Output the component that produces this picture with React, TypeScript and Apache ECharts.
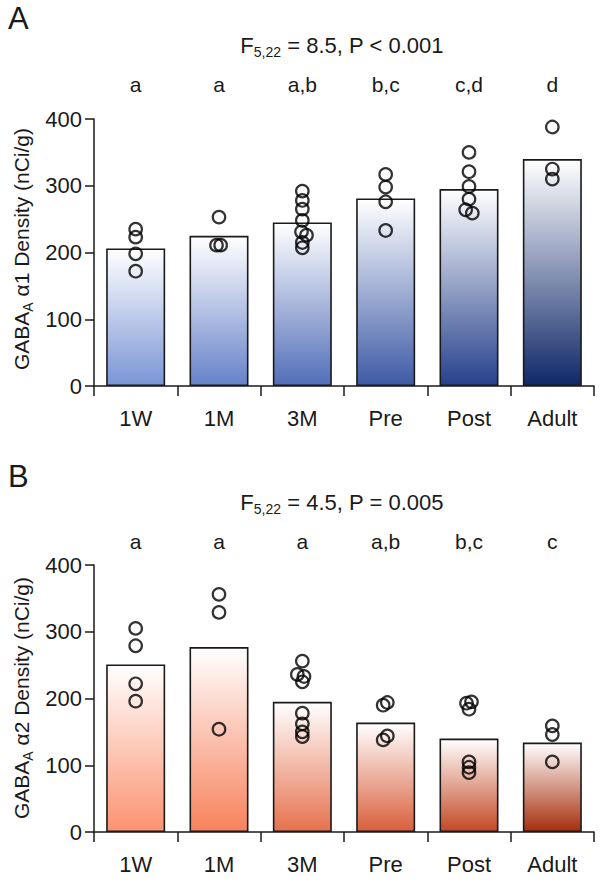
import React, { useEffect, useRef } from "react";
import * as echarts from "echarts";

const categories = ["1W", "1M", "3M", "Pre", "Post", "Adult"];

const lettersA = ["a", "a", "a,b", "b,c", "c,d", "d"];
const lettersB = ["a", "a", "a", "a,b", "b,c", "c"];

const barsA = [206, 225, 245, 281, 295, 340];
const barsB = [251, 277, 195, 164, 140, 134];

const pointsA = [
  [235, 223, 198, 172],
  [253, 211, 211],
  [292, 278, 265, 248, 231, 226, 215, 207],
  [317, 298, 276, 233],
  [350, 321, 299, 280, 264, 259],
  [388, 325, 310],
];
const jitterA = [
  [0, 0, 0, 0],
  [0, -0.03, 0.02],
  [0, 0, 0, 0, -0.01, 0.05, 0, 0],
  [0, 0, 0, 0],
  [0, 0, 0, 0, -0.04, 0.04],
  [0, 0, 0],
];

const pointsB = [
  [305, 279, 222, 196],
  [356, 329, 154],
  [256, 236, 233, 225, 178, 162, 150, 143],
  [194, 190, 144, 138],
  [195, 193, 184, 105, 97, 89],
  [159, 146, 105],
];
const jitterB = [
  [0, 0, 0, 0],
  [0, 0, 0],
  [0, -0.06, 0.02, 0, 0, 0, 0, 0],
  [0.02, -0.03, 0.02, -0.03],
  [0.03, -0.03, 0, 0, 0, 0],
  [0, 0, 0],
];

const yTicks = { min: 0, max: 400, interval: 100 };

const blueBottoms = ["#7a95d6", "#6782ca", "#526eb9", "#3e5ba6", "#26418d", "#0f2869"];
const redBottoms = ["#fc9270", "#f7825c", "#e5714d", "#d85f3c", "#c44824", "#a62e0c"];

const FONT = "'Liberation Sans', Arial, sans-serif";
const INK = "#1a1a1a";

function grad(bottom: string) {
  return new echarts.graphic.LinearGradient(0, 0, 0, 1, [
    { offset: 0, color: "#ffffff" },
    { offset: 1, color: bottom },
  ]);
}

function scatterData(points: number[][], jitter: number[][]) {
  const out: number[][] = [];
  points.forEach((grp, i) => {
    grp.forEach((v, j) => out.push([i + (jitter[i][j] || 0), v]));
  });
  return out;
}

function axesForGrid(g: number, letters: string[], letterMargin: number) {
  return [
    {
      gridIndex: g,
      type: "category",
      data: categories,
      axisLine: { onZero: false, lineStyle: { color: INK, width: 1.5 } },
      axisTick: { show: true, length: 10, interval: 0, lineStyle: { color: INK, width: 1.5 } },
      axisLabel: { fontSize: 22, color: INK, fontFamily: FONT, margin: 21, interval: 0 },
    },
    {
      gridIndex: g,
      type: "category",
      position: "top",
      data: letters,
      axisLine: { show: false },
      axisTick: { show: false },
      axisLabel: { fontSize: 21, color: INK, fontFamily: FONT, margin: letterMargin, interval: 0 },
    },
    {
      gridIndex: g,
      type: "value",
      min: -0.5,
      max: 5.5,
      show: false,
    },
  ];
}

function yAxisFor(g: number) {
  return {
    gridIndex: g,
    type: "value",
    min: yTicks.min,
    max: yTicks.max,
    interval: yTicks.interval,
    splitLine: { show: false },
    axisLine: { show: true, onZero: false, lineStyle: { color: INK, width: 1.5 } },
    axisTick: { show: true, length: 9, lineStyle: { color: INK, width: 1.5 } },
    axisLabel: { fontSize: 22, color: INK, fontFamily: FONT, margin: 12 },
  };
}

function fText(x: number, y: number, sub: string, rest: string) {
  return {
    type: "text",
    x,
    y,
    style: {
      text: `{m|F}{s|${sub}}{m|${rest}}`,
      align: "center",
      verticalAlign: "middle",
      fontFamily: FONT,
      rich: {
        m: { fontSize: 22, fontFamily: FONT, fill: INK, lineHeight: 28, verticalAlign: "middle" },
        s: { fontSize: 14, fontFamily: FONT, fill: INK, lineHeight: 11, verticalAlign: "bottom" },
      },
    },
  };
}

function yTitle(x: number, y: number, n: string) {
  return {
    type: "text",
    x,
    y,
    rotation: Math.PI / 2,
    style: {
      text: `{m|GABA}{s|A}{m| α${n} Density (nCi/g)}`,
      align: "center",
      verticalAlign: "middle",
      fontFamily: FONT,
      rich: {
        m: { fontSize: 21, fontFamily: FONT, fill: INK, lineHeight: 27, verticalAlign: "middle" },
        s: { fontSize: 14, fontFamily: FONT, fill: INK, lineHeight: 11, verticalAlign: "bottom" },
      },
    },
  };
}

export default function App() {
  const ref = useRef<HTMLDivElement>(null);
  useEffect(() => {
    document.body.style.margin = "0";
    if (!ref.current) return;
    const chart = echarts.init(ref.current, undefined, { renderer: "svg" });
    const scatterStyle = {
      color: "rgba(0,0,0,0)",
      borderColor: "#000",
      borderWidth: 2.2,
    };
    const option: any = {
      animation: false,
      backgroundColor: "#ffffff",
      textStyle: { fontFamily: FONT },
      grid: [
        { left: 94, right: 8, top: 119, height: 267 },
        { left: 94, right: 8, top: 565, height: 267 },
      ],
      xAxis: [...axesForGrid(0, lettersA, 24), ...axesForGrid(1, lettersB, 13)],
      yAxis: [yAxisFor(0), yAxisFor(1)],
      series: [
        {
          type: "bar",
          xAxisIndex: 0,
          yAxisIndex: 0,
          barWidth: 59,
          data: barsA.map((v, i) => ({
            value: v,
            itemStyle: { color: grad(blueBottoms[i]), borderColor: INK, borderWidth: 1.6 },
          })),
        },
        {
          type: "scatter",
          xAxisIndex: 2,
          yAxisIndex: 0,
          symbol: "circle",
          symbolSize: 12.5,
          itemStyle: scatterStyle,
          z: 5,
          data: scatterData(pointsA, jitterA),
        },
        {
          type: "bar",
          xAxisIndex: 3,
          yAxisIndex: 1,
          barWidth: 59,
          data: barsB.map((v, i) => ({
            value: v,
            itemStyle: { color: grad(redBottoms[i]), borderColor: INK, borderWidth: 1.6 },
          })),
        },
        {
          type: "scatter",
          xAxisIndex: 5,
          yAxisIndex: 1,
          symbol: "circle",
          symbolSize: 12.5,
          itemStyle: scatterStyle,
          z: 5,
          data: scatterData(pointsB, jitterB),
        },
      ],
      graphic: [
        {
          type: "text",
          left: 8,
          top: 3,
          style: { text: "A", fontSize: 31, fontFamily: FONT, fill: INK },
        },
        {
          type: "text",
          left: 8,
          top: 461,
          style: { text: "B", fontSize: 31, fontFamily: FONT, fill: INK },
        },
        fText(342, 45, "5,22", " = 8.5, P < 0.001"),
        fText(342, 502, "5,22", " = 4.5, P = 0.005"),
        yTitle(21, 249, "1"),
        yTitle(21, 698, "2"),
      ],
    };
    chart.setOption(option);
    return () => chart.dispose();
  }, []);
  return <div ref={ref} style={{ width: 602, height: 883 }} />;
}
